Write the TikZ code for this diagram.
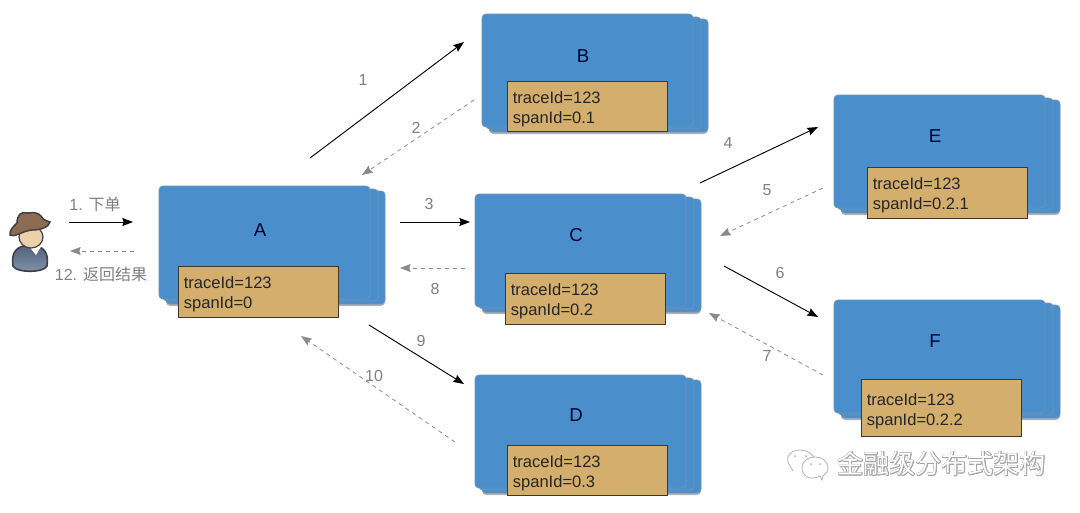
\documentclass[tikz,border=0pt]{standalone}
\usepackage{fontspec}
\setmainfont{Liberation Sans}
\newfontfamily\cjkfont{Noto Sans CJK SC}
\usepackage{xcolor}
\usepackage{tikz}
\usepackage[copies]{contour}
\usetikzlibrary{arrows.meta, shadows}
\definecolor{card_blue}{HTML}{4a8fcb}
\definecolor{card_edge}{HTML}{6f93b4}
\definecolor{tag_tan}{HTML}{d3ae6c}
\definecolor{tag_edge}{HTML}{3f3728}
\definecolor{label_gray}{HTML}{7f7f7f}
\definecolor{dash_gray}{HTML}{8a8a8a}
\definecolor{hat_brown}{HTML}{8d6b52}
\definecolor{skin_tan}{HTML}{ecd0aa}
\definecolor{coat_slate}{HTML}{4f6078}
\definecolor{coat_light}{HTML}{8396ad}
\contourlength{0.35pt}
\tikzset{
  card/.style={draw=card_edge, fill=card_blue, rounded corners=3pt, line width=0.6pt},
  shadowcard/.style={card, drop shadow={shadow xshift=0pt, shadow yshift=-1.5pt, opacity=0.3, fill=black}},
  tag/.style={draw=tag_edge, fill=tag_tan, line width=0.8pt, anchor=north west, align=left,
    text width=111.7pt, inner xsep=4pt, inner ysep=0pt, text=black!85,
    font=\fontsize{12.4}{15}\selectfont, execute at begin node={\rule{0pt}{13pt}}},
  letter/.style={text=black!80!blue, font=\fontsize{14}{16}\selectfont},
  call/.style={-{Stealth[length=8pt, width=6pt, inset=1pt]}, black, line width=0.7pt},
  reply/.style={-{Stealth[length=8pt, width=6pt, inset=1pt]}, dash_gray, dashed, line width=0.6pt},
  num/.style={text=label_gray, font=\fontsize{12}{14}\selectfont},
}
% one stacked service: name, x, y, letter dx, letter dy
\newcommand{\servicestack}[5]{
  \draw[shadowcard] (#2+7,#3+5) rectangle (#2+226,#3+118);
  \draw[card] (#2+4,#3+3) rectangle (#2+219,#3+115);
  \draw[card] (#2,#3) rectangle (#2+211,#3+113);
  \node[letter] (#1) at (#2+#4,#3+#5) {#1};
}
\begin{document}
\begin{tikzpicture}[x=0.75pt, y=-0.75pt]
  \useasboundingbox (0,0) rectangle (1080,512);

  % Draw the service stacks
  \servicestack{A}{159}{186}{101}{44}
  \servicestack{B}{482}{14}{101}{42}
  \servicestack{C}{475}{194}{101}{41}
  \servicestack{D}{475}{375}{101}{40}
  \servicestack{E}{834}{95}{101}{41}
  \servicestack{F}{834}{300}{101}{41}

  % The tags with the ids
  \node[tag, minimum height=38pt] (tagA) at (178,266) {traceId=123\\spanId=0};
  \node[tag, minimum height=37.5pt] (tagB) at (507,81) {traceId=123\\spanId=0.1};
  \node[tag, minimum height=38pt] (tagC) at (505,273) {traceId=123\\spanId=0.2};
  \node[tag, minimum height=37.5pt] (tagD) at (507,445) {traceId=123\\spanId=0.3};
  \node[tag, minimum height=38pt] (tagE) at (867,167) {traceId=123\\spanId=0.2.1};
  \node[tag, minimum height=43pt] (tagF) at (861,379) {traceId=123\\spanId=0.2.2};

  % Request and reply of the user
  \coordinate (userout) at (69,222);
  \coordinate (userin) at (70,251);
  \coordinate (aleft) at (133,222);
  \coordinate (aleftb) at (134,251);
  \draw[call] (userout) -- (aleft);
  \draw[reply] (aleftb) -- (userin);
  \node[num] (first) at (95,204) {1. {\cjkfont 下单}};
  \node[num] (last) at (101,274) {12. {\cjkfont 返回结果}};

  % Calls from A to B
  \coordinate (ab1) at (310,158);
  \coordinate (ab2) at (464,42);
  \coordinate (ba1) at (474,100);
  \coordinate (ba2) at (362,175);
  \draw[call] (ab1) -- (ab2);
  \draw[reply] (ba1) -- (ba2);
  \node[num] (n1) at (363,80) {1};
  \node[num] (n2) at (416,128) {2};

  % Calls from A to C
  \coordinate (ac1) at (400,222);
  \coordinate (ac2) at (470,222);
  \coordinate (ca1) at (465,268);
  \coordinate (ca2) at (400,268);
  \draw[call] (ac1) -- (ac2);
  \draw[reply] (ca1) -- (ca2);
  \node[num] (n3) at (429,204) {3};
  \node[num] (n8) at (435,289) {8};

  % Calls from C to E
  \coordinate (ce1) at (700,183);
  \coordinate (ce2) at (818,127);
  \coordinate (ec1) at (823,188);
  \coordinate (ec2) at (720,236);
  \draw[call] (ce1) -- (ce2);
  \draw[reply] (ec1) -- (ec2);
  \node[num] (n4) at (728,143) {4};
  \node[num] (n5) at (767,190) {5};

  % Calls from C to F
  \coordinate (cf1) at (724,266);
  \coordinate (cf2) at (818,317);
  \coordinate (fc1) at (823,375);
  \coordinate (fc2) at (709,313);
  \draw[call] (cf1) -- (cf2);
  \draw[reply] (fc1) -- (fc2);
  \node[num] (n6) at (780,273) {6};
  \node[num] (n7) at (767,356) {7};

  % Calls from A to D
  \coordinate (ad1) at (369,325);
  \coordinate (ad2) at (464,384);
  \coordinate (da1) at (455,442);
  \coordinate (da2) at (301,336);
  \draw[call] (ad1) -- (ad2);
  \draw[reply] (da1) -- (da2);
  \node[num] (n9) at (421,341) {9};
  \node[num] (n10) at (374,376) {10};

  % Draw the user
  \draw[top color=coat_slate, bottom color=coat_light, draw=black!75, line width=1.2pt] (13,266) .. controls (11,252) and (16,246) .. (30,245) .. controls (44,246) and (49,252) .. (47,266) .. controls (44,273) and (16,273) .. (13,266) -- cycle;
  \fill[white] (36,255) -- (28,245) -- (42,245) -- cycle;
  \draw[fill=skin_tan, draw=black!75, line width=0.9pt] (31,237) ellipse (12 and 11);
  \draw[fill=hat_brown, draw=black!75, line width=1.1pt] (10,235) .. controls (9,230) and (14,226) .. (17,223) .. controls (17,215) and (21,211) .. (27,213) .. controls (32,213) and (36,211) .. (41,216) .. controls (42,219) and (44,220) .. (50,222) .. controls (49,227) and (41,230) .. (32,230) .. controls (22,231) and (14,238) .. (10,235) -- cycle;

  % Draw the watermark
  \draw[black!30, line width=0.6pt] (793,471) -- (790,466) .. controls (784,458) and (790,450) .. (800,450) .. controls (808,450) and (814,455) .. (815,460);
  \draw[black!30, line width=0.6pt, fill=white] (822,480) -- (820,476) .. controls (810,481) and (802,476) .. (802,468) .. controls (802,461) and (808,457) .. (815,457) .. controls (823,457) and (828,462) .. (828,468) .. controls (828,472) and (825,474) .. (823,476) -- cycle;
  \fill[black!30] (795,456) circle (1) (806,456) circle (1) (811,464) circle (1) (820,464) circle (1);
  \node[text=white, font=\cjkfont\fontsize{19.5}{22}\selectfont, anchor=west] (mark) at (833,464) {\contour{black!35}{金融级分布式架构}};
\end{tikzpicture}
\end{document}
